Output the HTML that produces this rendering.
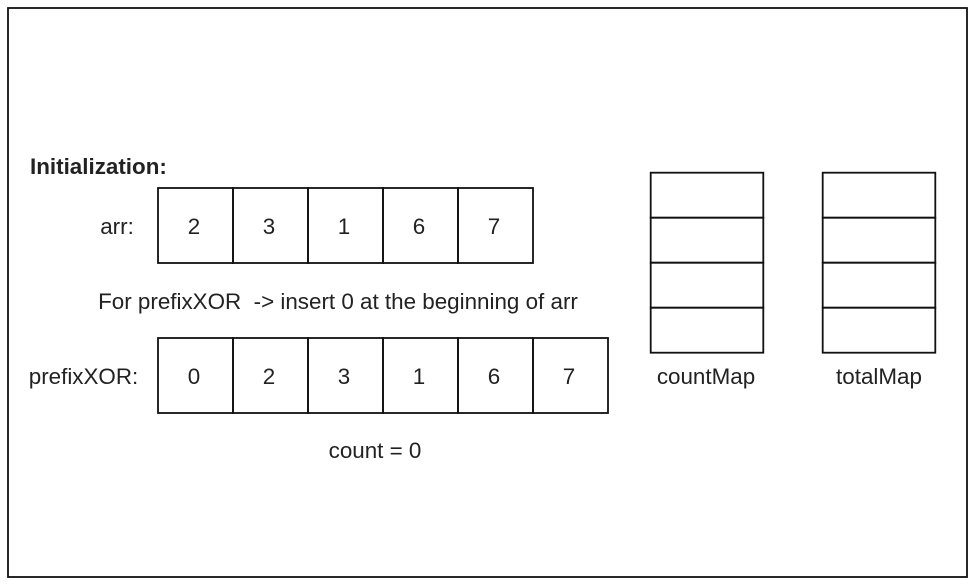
<!DOCTYPE html>
<html>
<head>
<meta charset="utf-8">
<style>
html,body{margin:0;padding:0;background:#fff;width:976px;height:586px;overflow:hidden}
svg{display:block}
text{font-family:"Liberation Sans",Arial,sans-serif;font-size:22.4px;fill:#222;text-anchor:middle}
rect,line{stroke:#111;stroke-width:1.8;fill:none}
</style>
</head>
<body>
<svg width="976" height="586" viewBox="0 0 976 586">
<rect x="8" y="8" width="959" height="569"/>
<text x="30" y="174" style="font-weight:bold;text-anchor:start">Initialization:</text>
<text x="117" y="234">arr:</text>
<g>
<rect x="158" y="188" width="75" height="75"/><text x="194" y="234">2</text>
<rect x="233" y="188" width="75" height="75"/><text x="269" y="234">3</text>
<rect x="308" y="188" width="75" height="75"/><text x="344" y="234">1</text>
<rect x="383" y="188" width="75" height="75"/><text x="419" y="234">6</text>
<rect x="458" y="188" width="75" height="75"/><text x="494" y="234">7</text>
</g>
<text x="338" y="309" xml:space="preserve">For prefixXOR  -&gt; insert 0 at the beginning of arr</text>
<text x="83.500" y="384">prefixXOR:</text>
<g>
<rect x="158" y="338" width="75" height="75"/><text x="194" y="384">0</text>
<rect x="233" y="338" width="75" height="75"/><text x="269" y="384">2</text>
<rect x="308" y="338" width="75" height="75"/><text x="344" y="384">3</text>
<rect x="383" y="338" width="75" height="75"/><text x="419" y="384">1</text>
<rect x="458" y="338" width="75" height="75"/><text x="494" y="384">6</text>
<rect x="533" y="338" width="75" height="75"/><text x="569" y="384">7</text>
</g>
<text x="375" y="458">count = 0</text>
<g>
<rect x="650.7" y="172.700" width="112.600" height="45"/>
<rect x="650.7" y="217.700" width="112.600" height="45"/>
<rect x="650.7" y="262.700" width="112.600" height="45"/>
<rect x="650.7" y="307.700" width="112.600" height="45"/>
</g>
<text x="706" y="384">countMap</text>
<g>
<rect x="822.7" y="172.700" width="112.600" height="45"/>
<rect x="822.7" y="217.700" width="112.600" height="45"/>
<rect x="822.7" y="262.700" width="112.600" height="45"/>
<rect x="822.7" y="307.700" width="112.600" height="45"/>
</g>
<text x="879" y="384">totalMap</text>
</svg>
</body>
</html>
